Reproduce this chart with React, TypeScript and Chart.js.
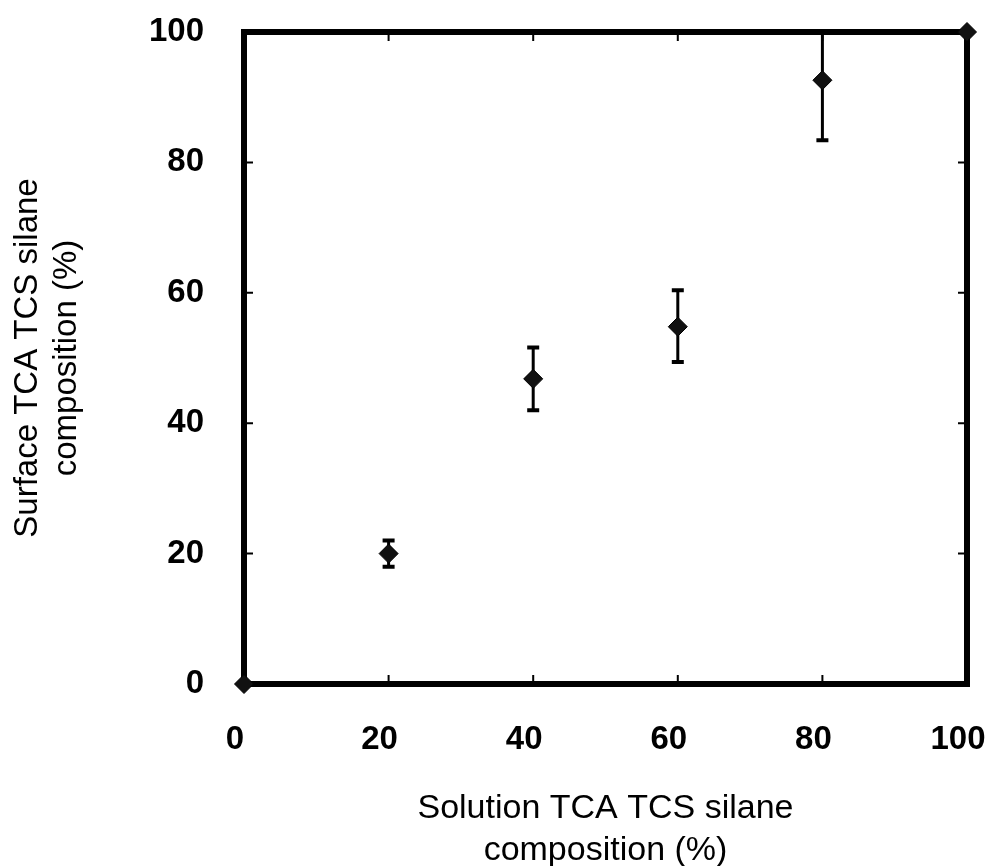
import { useEffect, useRef } from "react";
import { Chart, registerables } from "chart.js";

Chart.register(...registerables);

const xValues = [0, 20, 40, 60, 80, 100];
const yValues = [0, 20, 46.8, 54.8, 92.6, 100];
const yErrLow = [0, 18, 42, 49.4, 83.4, 100];
const yErrHigh = [0, 22, 51.6, 60.4, 100, 100];
const tickValues = [0, 20, 40, 60, 80, 100];
const xTitle = ["Solution TCA TCS silane", "composition (%)"];
const yTitle = ["Surface TCA TCS silane", "composition (%)"];

const FONT = "'Liberation Sans', Arial, Helvetica, sans-serif";

const framePlugin = {
  id: "frameAndErrors",
  beforeDatasetsDraw(chart: any) {
    const { ctx, chartArea: a, scales } = chart;
    const x = scales.x;
    const y = scales.y;
    ctx.save();
    ctx.strokeStyle = "#000";
    ctx.lineWidth = 6;
    ctx.strokeRect(a.left, a.top, a.right - a.left, a.bottom - a.top);

    // small inward ticks
    ctx.lineWidth = 2;
    const tl = 9;
    tickValues.forEach((v) => {
      const px = x.getPixelForValue(v);
      ctx.beginPath();
      ctx.moveTo(px, a.bottom);
      ctx.lineTo(px, a.bottom - tl);
      ctx.moveTo(px, a.top);
      ctx.lineTo(px, a.top + tl);
      const py = y.getPixelForValue(v);
      ctx.moveTo(a.left, py);
      ctx.lineTo(a.left + tl, py);
      ctx.moveTo(a.right, py);
      ctx.lineTo(a.right - tl, py);
      ctx.stroke();
    });

    // error bars
    xValues.forEach((xv, i) => {
      if (yErrLow[i] === yErrHigh[i]) return;
      const px = x.getPixelForValue(xv);
      const top = y.getPixelForValue(yErrHigh[i]);
      const bot = y.getPixelForValue(yErrLow[i]);
      ctx.lineWidth = 3;
      ctx.beginPath();
      ctx.moveTo(px, top);
      ctx.lineTo(px, bot);
      ctx.stroke();
      ctx.lineWidth = 4;
      ctx.beginPath();
      ctx.moveTo(px - 6, top);
      ctx.lineTo(px + 6, top);
      ctx.moveTo(px - 6, bot);
      ctx.lineTo(px + 6, bot);
      ctx.stroke();
    });
    ctx.restore();
  },
};

export default function App() {
  const ref = useRef<HTMLCanvasElement | null>(null);

  useEffect(() => {
    document.body.style.margin = "0";
    const canvas = ref.current;
    if (!canvas) return;
    const chart = new Chart(canvas, {
      type: "scatter",
      data: {
        datasets: [
          {
            data: xValues.map((xv, i) => ({ x: xv, y: yValues[i] })),
            pointStyle: "rectRot",
            pointRadius: 9.5,
            pointBackgroundColor: "#111",
            pointBorderColor: "#000",
            pointBorderWidth: 1,
            showLine: false,
            clip: false as any,
          },
        ],
      },
      options: {
        responsive: false,
        animation: false,
        events: [],
        layout: { padding: { left: 0, top: 32, right: 25, bottom: 0 } },
        plugins: {
          legend: { display: false },
          tooltip: { enabled: false },
        },
        scales: {
          x: {
            type: "linear",
            min: 0,
            max: 100,
            grid: { display: false, drawTicks: false },
            border: { display: false },
            ticks: {
              stepSize: 20,
              padding: 36,
              labelOffset: -9,
              color: "#000",
              font: { family: FONT, size: 33, weight: "bold" },
            },
            title: {
              display: true,
              text: xTitle,
              color: "#000",
              font: { family: FONT, size: 34, lineHeight: 1.25 },
              padding: { top: 0, bottom: -6 },
            },
            afterFit: (s: any) => {
              s.height = 182;
              s.paddingLeft = 0;
              s.paddingRight = 0;
            },
          },
          y: {
            type: "linear",
            min: 0,
            max: 100,
            grid: { display: false, drawTicks: false },
            border: { display: false },
            ticks: {
              stepSize: 20,
              padding: 40,
              color: "#000",
              font: { family: FONT, size: 33, weight: "bold" },
            },
            title: {
              display: true,
              text: yTitle,
              color: "#000",
              font: { family: FONT, size: 33, lineHeight: 1.2 },
              padding: { top: 8, bottom: 0 },
            },
            afterFit: (s: any) => {
              s.width = 244;
              s.paddingTop = 0;
              s.paddingBottom = 0;
            },
          },
        },
      },
      plugins: [framePlugin],
    });
    return () => chart.destroy();
  }, []);

  return (
    <div style={{ width: 992, height: 866, background: "#fff" }}>
      <canvas ref={ref} width={992} height={866} />
    </div>
  );
}
